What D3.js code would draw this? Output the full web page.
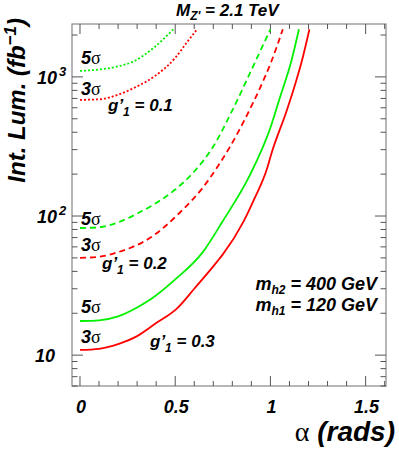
<!DOCTYPE html>
<html>
<head>
<meta charset="utf-8">
<script src="https://cdn.jsdelivr.net/npm/d3@7"></script>
<style>
  body { margin: 0; background: #fff; }
  svg text { font-family: "Liberation Sans", Arial, sans-serif; font-weight: bold; font-style: italic; fill: #000; }
  .sym { font-family: "Liberation Serif", serif; font-weight: normal; font-style: normal; }
</style>
</head>
<body>
<svg id="chart" width="399" height="451"></svg>
<script>
// g'1 = 0.3 (solid)
const alphaG3s5 = [0, 0.1, 0.2, 0.3, 0.375, 0.5, 0.645, 0.75, 0.89, 1.0, 1.05, 1.11, 1.15];
const lumG3s5 = [17.6, 17.8, 19, 22, 25.4, 35, 55, 92, 194, 431, 710, 1300, 2200];
const alphaG3s3 = [0, 0.1, 0.2, 0.3, 0.4, 0.51, 0.6, 0.72, 0.75, 0.86, 0.91, 0.985, 1.005, 1.085, 1.13, 1.165, 1.205];
const lumG3s3 = [10.9, 11.1, 12, 13.7, 17, 21.7, 30, 47, 53, 92, 128, 225, 280, 569, 885, 1300, 2200];
// g'1 = 0.2 (dashed)
const alphaG2s5 = [0, 0.1, 0.2, 0.3, 0.4, 0.5, 0.6, 0.7, 0.8, 0.9, 1.0];
const lumG2s5 = [82, 83, 90, 104, 124, 155, 209, 316, 575, 1120, 2200];
const alphaG2s3 = [0, 0.1, 0.2, 0.37, 0.525, 0.645, 0.725, 0.785, 0.875, 0.945, 1.005, 1.065];
const lumG2s3 = [50, 51, 55, 70, 106, 160, 229, 310, 525, 830, 1290, 2200];
// g'1 = 0.1 (dotted)
const alphaG1s5 = [0, 0.1, 0.2, 0.28, 0.385, 0.49];
const lumG1s5 = [1104, 1130, 1190, 1290, 1610, 2200];
const alphaG1s3 = [0, 0.1, 0.2, 0.3, 0.4, 0.5, 0.56, 0.615];
const lumG1s3 = [684, 690, 745, 855, 1030, 1370, 1760, 2200];

const xTickLabels = ["0", "0.5", "1", "1.5"];
const xMajor = [0, 0.5, 1, 1.5];

const svg = d3.select("#chart");
const frame = { left: 72, right: 386, top: 24, bottom: 386 };

const xScale = d3.scaleLinear().domain([-0.042, 1.607]).range([frame.left, frame.right]);
const yScale = d3.scaleLog().domain([6, 2400]).range([frame.bottom, frame.top]);

// minor / major tick values
const xMinor = d3.range(0, 1.601, 0.1).filter(v => !xMajor.some(m => Math.abs(m - v) < 1e-6));
const yMajor = [10, 100, 1000];
let yMinor = [];
[1, 10, 100, 1000].forEach(dec => {
    for (let k = 2; k < 10; k++) {
        const v = k * dec;
        if (v >= 6 && v <= 2400) yMinor.push(v);
    }
});

// frame
svg.append("rect")
    .attr("x", frame.left).attr("y", frame.top)
    .attr("width", frame.right - frame.left).attr("height", frame.bottom - frame.top)
    .attr("fill", "none").attr("stroke", "#888").attr("stroke-width", 1.2);

function drawTicks(axis, values, len) {
    const g = svg.append("g").attr("stroke", "#555").attr("stroke-width", 1);
    values.forEach(v => {
        if (axis == "x") {
            const x = xScale(v);
            g.append("line").attr("x1", x).attr("x2", x).attr("y1", frame.bottom).attr("y2", frame.bottom - len);
            g.append("line").attr("x1", x).attr("x2", x).attr("y1", frame.top).attr("y2", frame.top + len);
        } else {
            const y = yScale(v);
            g.append("line").attr("x1", frame.left).attr("x2", frame.left + len).attr("y1", y).attr("y2", y);
            g.append("line").attr("x1", frame.right).attr("x2", frame.right - len).attr("y1", y).attr("y2", y);
        }
    });
}
drawTicks("x", xMajor, 10);
drawTicks("x", xMinor, 5);
drawTicks("y", yMajor, 11);
drawTicks("y", yMinor, 5.5);

// x tick labels
xMajor.forEach((v, i) => {
    svg.append("text")
        .attr("x", xScale(v) + 1).attr("y", 413)
        .attr("text-anchor", "middle")
        .style("font-size", "18px")
        .text(xTickLabels[i]);
});

// y tick labels
svg.append("text").attr("x", 55).attr("y", yScale(10) + 7)
    .attr("text-anchor", "end").style("font-size", "18px").text("10");
[[100, "2"], [1000, "3"]].forEach(([v, p]) => {
    const t = svg.append("text").attr("x", 37).attr("y", yScale(v) + 7).style("font-size", "18px");
    t.append("tspan").text("10");
    t.append("tspan").attr("dx", 2).attr("dy", -8).style("font-size", "13px").text(p);
});

// curves
const line = d3.line()
    .x(d => xScale(d[0]))
    .y(d => yScale(d[1]))
    .curve(d3.curveMonotoneX);

const curves = [
    { a: alphaG3s5, l: lumG3s5, color: "#00f000", dash: null },
    { a: alphaG3s3, l: lumG3s3, color: "#ff0000", dash: null },
    { a: alphaG2s5, l: lumG2s5, color: "#00f000", dash: "6,4" },
    { a: alphaG2s3, l: lumG2s3, color: "#ff0000", dash: "6,4" },
    { a: alphaG1s5, l: lumG1s5, color: "#00f000", dash: "2,2" },
    { a: alphaG1s3, l: lumG1s3, color: "#ff0000", dash: "2,2" }
];
curves.forEach(c => {
    svg.append("path")
        .datum(c.a.map((a, i) => [a, c.l[i]]))
        .attr("d", line)
        .attr("fill", "none")
        .attr("stroke", c.color)
        .attr("stroke-width", 1.8)
        .attr("stroke-dasharray", c.dash);
});

// sigma labels
function sigmaLabel(x, y, n) {
    const t = svg.append("text").attr("x", x).attr("y", y).style("font-size", "18px");
    t.append("tspan").text(n);
    t.append("tspan").attr("class", "sym").text("σ");
}
sigmaLabel(81, 64, "5");
sigmaLabel(81, 95, "3");
sigmaLabel(81, 225, "5");
sigmaLabel(81, 251, "3");
sigmaLabel(81, 313, "5");
sigmaLabel(81, 343, "3");

// coupling labels
function gLabel(x, y, val) {
    const t = svg.append("text").attr("x", x).attr("y", y).style("font-size", "17px");
    t.append("tspan").text("g’");
    t.append("tspan").attr("dy", 5).style("font-size", "12px").text("1");
    t.append("tspan").attr("dy", -5).text(" = " + val);
}
gLabel(108, 111, "0.1");
gLabel(102, 269, "0.2");
gLabel(150, 347, "0.3");

// mass labels
function massLabel(y, sub, val) {
    const t = svg.append("text").attr("x", 377).attr("y", y)
        .attr("text-anchor", "end").style("font-size", "18px");
    t.append("tspan").text("m");
    t.append("tspan").attr("dy", 4).style("font-size", "12px").text(sub);
    t.append("tspan").attr("dy", -4).text(" = " + val);
}
massLabel(290, "h2", "400 GeV");
massLabel(311, "h1", "120 GeV");

// top label
const topLabel = svg.append("text").attr("x", 176).attr("y", 16).style("font-size", "17px");
topLabel.append("tspan").text("M");
topLabel.append("tspan").attr("dy", 4).style("font-size", "12px").text("Z'");
topLabel.append("tspan").attr("dy", -4).text(" = 2.1 TeV");

// axis titles
const xt = svg.append("text").attr("x", 395).attr("y", 441)
    .attr("text-anchor", "end").style("font-size", "28px");
xt.append("tspan").attr("class", "sym").text("α");
xt.append("tspan").text(" (rads)");

const yt = svg.append("text")
    .attr("transform", "translate(25,18) rotate(-90)")
    .attr("text-anchor", "end").style("font-size", "24px");
yt.append("tspan").text("Int. Lum. (fb");
yt.append("tspan").attr("dy", -9).style("font-size", "17px").text("−1");
yt.append("tspan").attr("dy", 9).text(")");
</script>
</body>
</html>
